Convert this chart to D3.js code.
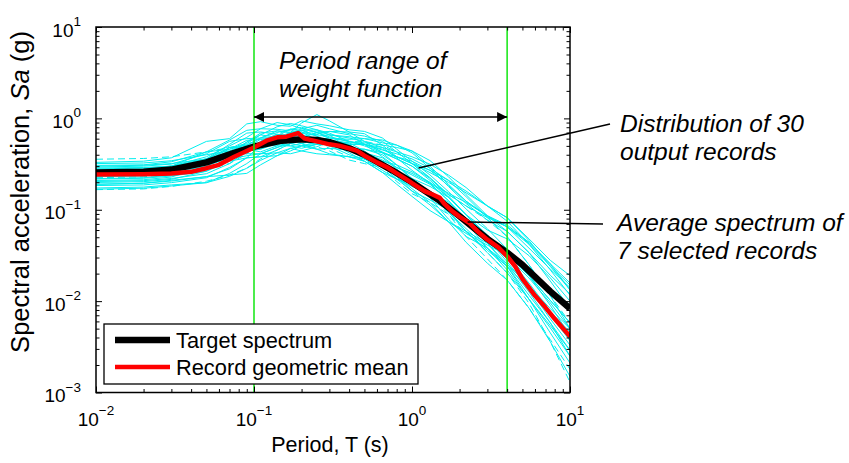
<!DOCTYPE html>
<html><head><meta charset="utf-8">
<script src="https://cdn.jsdelivr.net/npm/d3@7"></script>
<style>
html,body{margin:0;padding:0;background:#fff;}
svg{display:block;font-family:"Liberation Sans",Arial,Helvetica,sans-serif;}
</style></head>
<body><svg id="c" width="849" height="463"></svg>
<script>
// ---------- data ----------
const targetPeriods = [0.01,0.02,0.03,0.05,0.075,0.1,0.15,0.2,0.25,0.3,0.4,0.5,0.75,1,1.5,2,3,4,5,7.5,10];
const targetSa      = [0.255,0.26,0.275,0.33,0.42,0.49,0.57,0.59,0.58,0.55,0.47,0.40,0.27,0.20,0.125,0.085,0.048,0.034,0.025,0.0128,0.0083];

const meanPeriods = [0.01,0.02,0.03,0.04,0.05,0.06,0.075,0.09,0.1,0.12,0.14,0.16,0.19,0.21,0.25,0.3,0.35,0.4,0.45,0.5,0.6,0.7,0.8,0.9,1.0,1.2,1.35,1.5,1.6,1.8,2.0,2.3,2.6,3.0,3.5,4.0,4.5,5.0,6.0,7.0,8.0,10];
const meanSa      = [0.243,0.245,0.25,0.26,0.285,0.31,0.38,0.44,0.48,0.57,0.62,0.63,0.69,0.60,0.56,0.52,0.50,0.47,0.44,0.39,0.33,0.29,0.25,0.22,0.195,0.16,0.147,0.135,0.117,0.096,0.084,0.072,0.058,0.047,0.039,0.031,0.024,0.0175,0.0115,0.0085,0.0064,0.0041];

const recordPeriods = [0.01,0.02,0.03,0.05,0.07,0.09,0.11,0.14,0.17,0.2,0.25,0.3,0.4,0.5,0.65,0.8,1,1.3,1.7,2.2,3,4,5.5,7.5,10];
const recordSpectra = [
 [.33,.34,.37,.56,.60,.87,.92,.84,.82,.94,.87,.83,.75,.72,.61,.46,.34,.24,.158,.102,.062,.037,.019,.009,.0042],
 [.173,.177,.187,.198,.25,.32,.41,.48,.53,.56,.58,.58,.52,.40,.30,.255,.22,.18,.137,.088,.053,.034,.019,.0102,.0058],
 [.286,.29,.30,.33,.42,.55,.66,.62,.585,.62,.70,.72,.71,.68,.51,.38,.32,.27,.21,.16,.11,.082,.046,.024,.0133],
 [.217,.221,.234,.264,.36,.46,.43,.50,.64,.71,.58,.50,.45,.42,.37,.28,.20,.135,.079,.051,.038,.024,.0105,.0051,.0025],
 [.242,.247,.261,.33,.48,.48,.51,.64,.76,.74,.64,.66,.63,.60,.54,.51,.44,.30,.19,.124,.086,.068,.044,.0256,.0158],
 [.19,.195,.21,.23,.28,.37,.51,.53,.50,.47,.52,.55,.45,.36,.32,.27,.20,.15,.116,.077,.043,.024,.0116,.0058,.0029],
 [.306,.31,.335,.43,.46,.51,.61,.73,.70,.65,.67,.72,.66,.52,.38,.29,.25,.195,.126,.073,.038,.022,.0105,.0045,.0021],
 [.23,.234,.253,.31,.36,.39,.41,.42,.41,.44,.49,.55,.52,.52,.48,.43,.38,.315,.24,.175,.11,.075,.042,.022,.0116],
 [.268,.273,.294,.36,.52,.69,.71,.67,.64,.59,.55,.50,.47,.46,.40,.31,.22,.15,.095,.062,.038,.0255,.0147,.0083,.005],
 [.166,.169,.18,.205,.24,.285,.36,.45,.53,.59,.55,.47,.38,.34,.29,.204,.15,.12,.089,.058,.034,.0204,.0095,.0036,.0013],
 [.255,.26,.275,.35,.44,.46,.46,.56,.70,.89,1.1,.94,.71,.56,.42,.36,.30,.21,.137,.088,.06,.048,.0315,.018,.01],
 [.204,.208,.22,.248,.32,.44,.56,.67,.64,.59,.55,.58,.54,.44,.32,.23,.16,.113,.074,.055,.041,.032,.021,.0134,.0091],
 [.293,.30,.316,.41,.56,.60,.61,.62,.61,.68,.73,.66,.61,.56,.48,.37,.27,.195,.152,.12,.086,.065,.038,.0224,.0141],
 [.224,.229,.248,.28,.32,.41,.54,.56,.56,.53,.49,.44,.35,.32,.29,.255,.22,.15,.089,.051,.029,.017,.0084,.0038,.0018],
 [.255,.26,.27,.31,.40,.51,.61,.70,.76,.80,.70,.61,.59,.60,.58,.51,.42,.285,.18,.117,.077,.058,.034,.0166,.0083],
 [.184,.187,.198,.224,.29,.37,.38,.39,.44,.50,.55,.55,.42,.34,.256,.217,.19,.158,.121,.08,.046,.029,.0147,.007,.0037],
 [.32,.325,.344,.40,.44,.53,.66,.81,.88,.83,.75,.69,.56,.50,.42,.31,.21,.143,.095,.058,.034,.0204,.0105,.0054,.0029],
 [.247,.252,.267,.33,.42,.44,.46,.53,.585,.56,.52,.52,.52,.52,.46,.38,.32,.255,.20,.153,.11,.082,.048,.028,.019],
 [.209,.213,.228,.30,.40,.41,.41,.48,.56,.62,.58,.50,.40,.36,.30,.23,.17,.12,.074,.044,.026,.017,.0084,.0036,.0015],
 [.275,.28,.30,.38,.50,.62,.77,.90,.85,.77,.70,.63,.56,.52,.45,.41,.36,.285,.21,.139,.082,.051,.025,.0115,.005],
 [.168,.172,.182,.198,.232,.285,.347,.42,.47,.44,.41,.40,.38,.34,.256,.19,.14,.098,.074,.058,.043,.032,.019,.0102,.0058],
 [.28,.286,.30,.36,.46,.575,.59,.59,.67,.77,.84,.77,.68,.64,.56,.43,.32,.225,.147,.11,.082,.065,.044,.0256,.0133],
 [.237,.242,.256,.30,.38,.48,.59,.62,.585,.53,.46,.41,.38,.36,.34,.31,.26,.20,.137,.088,.05,.031,.0158,.0077,.0037],
 [.357,.364,.38,.43,.48,.53,.56,.67,.76,.74,.67,.61,.56,.56,.51,.43,.32,.22,.147,.11,.077,.051,.025,.0115,.0058],
 [.199,.203,.215,.264,.34,.37,.38,.45,.53,.50,.46,.47,.45,.40,.30,.217,.16,.128,.10,.073,.043,.0255,.0126,.0058,.0025],
 [.26,.265,.283,.36,.48,.51,.51,.50,.50,.53,.58,.61,.56,.52,.43,.36,.30,.22,.142,.088,.048,.027,.0137,.0064,.0033],
 [.219,.224,.24,.30,.40,.55,.69,.73,.70,.65,.58,.52,.47,.46,.42,.38,.34,.27,.184,.124,.084,.065,.042,.0243,.015],
 [.30,.307,.32,.36,.40,.44,.51,.62,.70,.74,.75,.66,.47,.36,.27,.217,.18,.143,.095,.058,.036,.024,.0137,.0077,.0046],
 [.19,.195,.206,.23,.24,.25,.31,.39,.47,.50,.52,.52,.47,.42,.35,.29,.24,.19,.126,.08,.048,.031,.0179,.0096,.005],
 [.268,.273,.30,.43,.58,.74,.77,.76,.73,.71,.64,.55,.54,.54,.51,.48,.44,.345,.23,.146,.086,.058,.034,.0192,.012]
];
const dashedRecords = [23, 9, 13];

const weightRange = [0.1, 4];
const xTickValues = [0.01, 0.1, 1, 10];
const xTickExps   = ["\u22122", "\u22121", "0", "1"];
const yTickValues = [10, 1, 0.1, 0.01, 0.001];
const yTickExps   = ["1", "0", "\u22121", "\u22122", "\u22123"];
const legendLabels = ["Target spectrum", "Record geometric mean"];

// ---------- layout ----------
const L = 96, R = 570, T = 27, B = 392.5;
const svg = d3.select("#c");
const x = d3.scaleLog().domain([0.01, 10]).range([L, R]);
const y = d3.scaleLog().domain([0.001, 10]).range([B, T]);

svg.append("defs").append("clipPath").attr("id","clip")
  .append("rect").attr("x",L).attr("y",T).attr("width",R-L).attr("height",B-T);

const line = d3.line().x(d => x(d[0])).y(d => y(d[1]));
const plot = svg.append("g").attr("clip-path","url(#clip)");

// cyan records
recordSpectra.forEach((rec, i) => {
  plot.append("path")
    .attr("d", line(recordPeriods.map((p, j) => [p, rec[j]])))
    .attr("fill","none").attr("stroke","#00eeee").attr("stroke-width",1)
    .attr("stroke-dasharray", dashedRecords.includes(i) ? "7,4" : null);
});
// target
plot.append("path").attr("d", line(targetPeriods.map((p,i)=>[p,targetSa[i]])))
  .attr("fill","none").attr("stroke","#000").attr("stroke-width",6.5).attr("stroke-linejoin","round");
// mean
plot.append("path").attr("d", line(meanPeriods.map((p,i)=>[p,meanSa[i]])))
  .attr("fill","none").attr("stroke","#ff0000").attr("stroke-width",4.5).attr("stroke-linejoin","round");

// green lines
weightRange.forEach(p => {
  svg.append("line").attr("x1",x(p)).attr("x2",x(p)).attr("y1",T).attr("y2",B)
    .attr("stroke","#11e611").attr("stroke-width",1.5);
});

// axes ticks (inward)
const minorX = [], minorY = [];
[0.01,0.1,1].forEach(d => { for (let k=2;k<=9;k++) minorX.push(d*k); });
[0.001,0.01,0.1,1].forEach(d => { for (let k=2;k<=9;k++) minorY.push(d*k); });
function addAxis(axisFn, scale, vals, size, transform) {
  const g = svg.append("g").attr("transform", transform)
    .call(axisFn(scale).tickValues(vals).tickSize(-size).tickFormat(""));
  g.select(".domain").remove();
  g.selectAll("line").attr("stroke","#000").attr("stroke-width",1);
}
addAxis(d3.axisBottom, x, xTickValues, 6, `translate(0,${B})`);
addAxis(d3.axisBottom, x, minorX, 3.5, `translate(0,${B})`);
addAxis(d3.axisTop, x, xTickValues, 6, `translate(0,${T})`);
addAxis(d3.axisTop, x, minorX, 3.5, `translate(0,${T})`);
addAxis(d3.axisLeft, y, yTickValues, 6, `translate(${L},0)`);
addAxis(d3.axisLeft, y, minorY, 3.5, `translate(${L},0)`);
addAxis(d3.axisRight, y, yTickValues, 6, `translate(${R},0)`);
addAxis(d3.axisRight, y, minorY, 3.5, `translate(${R},0)`);

svg.append("rect").attr("x",L).attr("y",T).attr("width",R-L).attr("height",B-T)
  .attr("fill","none").attr("stroke","#000").attr("stroke-width",1.5);

// tick labels
xTickValues.forEach((v,i) => {
  const t = svg.append("text").attr("x", x(v)).attr("y", 425.5).attr("text-anchor","middle")
    .attr("font-size",19).attr("fill","#000");
  t.append("tspan").text("10");
  t.append("tspan").attr("dy",-10.5).attr("font-size",13.5).text(xTickExps[i]);
});
yTickValues.forEach((v,i) => {
  const t = svg.append("text").attr("x", 81).attr("y", y(v)+9.5).attr("text-anchor","end")
    .attr("font-size",19).attr("fill","#000");
  t.append("tspan").text("10");
  t.append("tspan").attr("dy",-10.5).attr("font-size",13.5).text(yTickExps[i]);
});

// axis labels
svg.append("text").attr("x",(L+R)/2 - 3).attr("y",452).attr("text-anchor","middle")
  .attr("font-size",21.5).text("Period, T (s)");
const yl = svg.append("text").attr("transform","translate(29,192) rotate(-90)")
  .attr("text-anchor","middle").attr("font-size",25.5);
yl.append("tspan").text("Spectral acceleration, ");
yl.append("tspan").attr("font-style","italic").text("Sa");
yl.append("tspan").text(" (g)");

// arrow
const defs = svg.select("defs");
defs.append("marker").attr("id","ah").attr("viewBox","0 0 10 10").attr("refX",10).attr("refY",5)
  .attr("markerWidth",14).attr("markerHeight",10).attr("markerUnits","userSpaceOnUse")
  .attr("orient","auto-start-reverse")
  .append("path").attr("d","M0,0 L10,5 L0,10 z").attr("fill","#000");
svg.append("line").attr("x1",x(weightRange[0])).attr("x2",x(weightRange[1])).attr("y1",117).attr("y2",117)
  .attr("stroke","#000").attr("stroke-width",1.5)
  .attr("marker-start","url(#ah)").attr("marker-end","url(#ah)");

// annotations
function ann(xp, yp, lines) {
  lines.forEach((s,i) => svg.append("text").attr("x",xp).attr("y",yp + i*28)
    .attr("font-size",24.5).attr("font-style","italic").text(s));
}
ann(279, 69, ["Period range of", "weight function"]);
ann(620, 132, ["Distribution of 30", "output records"]);
ann(617, 231, ["Average spectrum of", "7 selected records"]);
svg.append("line").attr("x1",x(1.1)).attr("y1",168).attr("x2",610).attr("y2",124)
  .attr("stroke","#000").attr("stroke-width",1.5);
svg.append("line").attr("x1",x(2.25)).attr("y1",222).attr("x2",603).attr("y2",224)
  .attr("stroke","#000").attr("stroke-width",1.5);

// legend
const lg = svg.append("g");
lg.append("rect").attr("x",104).attr("y",324).attr("width",314).attr("height",60)
  .attr("fill","#fff").attr("stroke","#000").attr("stroke-width",1.3);
const legColors = ["#000","#ff0000"], legWidths = [6.5,4.5];
legendLabels.forEach((s,i) => {
  const yy = 340 + i*27;
  lg.append("line").attr("x1",115).attr("x2",170).attr("y1",yy).attr("y2",yy)
    .attr("stroke",legColors[i]).attr("stroke-width",legWidths[i]);
  lg.append("text").attr("x",176).attr("y",yy+8).attr("font-size",21.8).text(s);
});
</script></body></html>
